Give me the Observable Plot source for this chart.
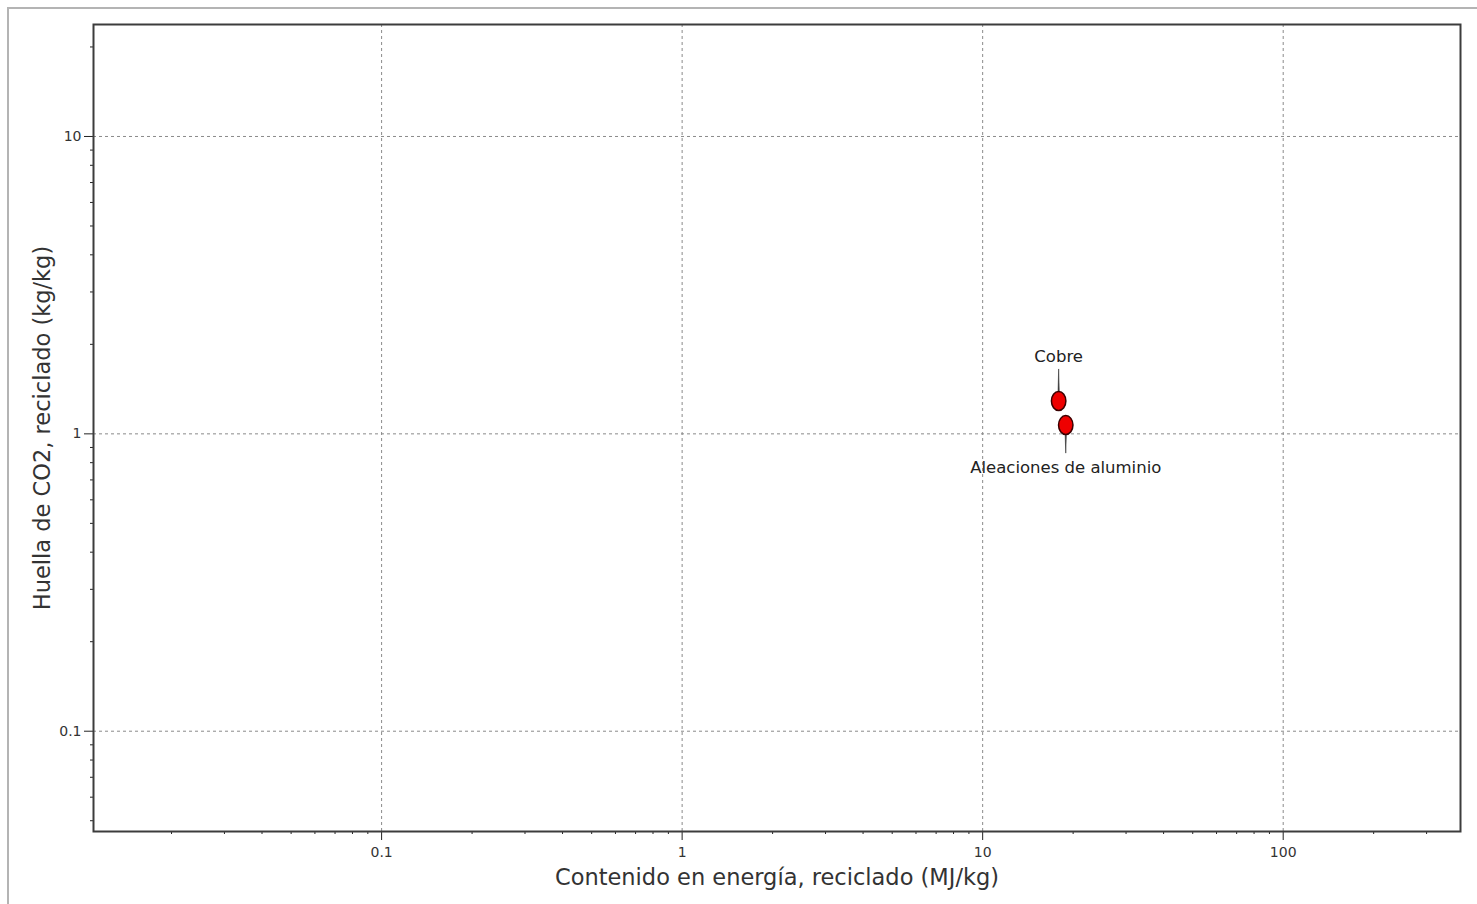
<!DOCTYPE html>
<html>
<head>
<meta charset="utf-8">
<script src="https://cdn.jsdelivr.net/npm/d3@7"></script>
<script src="https://cdn.jsdelivr.net/npm/@observablehq/plot@0.6"></script>
<style>
  html, body { margin: 0; padding: 0; background: #fff; overflow: hidden; }
  #wrap { position: relative; width: 1477px; height: 904px; }
  #border { position: absolute; left: 7px; top: 7px; width: 1475px; height: 910px;
            border-top: 2px solid #b4b4b4; border-left: 2px solid #b4b4b4; pointer-events: none; }
  svg g[aria-label$="tick label"] { font-size: 14px; }
</style>
</head>
<body>
<div id="wrap"><div id="border"></div></div>
<script>
// ---- data ----
const materials = ["Cobre", "Aleaciones de aluminio"];
const energy = [17.9, 18.9];      // MJ/kg, reciclado
const co2 = [1.29, 1.07];         // kg/kg, reciclado
const xTicks = [0.1, 1, 10, 100];
const yTicks = [0.1, 1, 10];
const xDomain = [0.011, 389];
const yDomain = [0.046, 23.8];
const xTitle = "Contenido en energía, reciclado (MJ/kg)";
const yTitle = "Huella de CO2, reciclado (kg/kg)";

const data = materials.map((m, i) => ({name: m, x: energy[i], y: co2[i]}));

function minorTicks(domain) {
  const out = [];
  for (let e = -3; e <= 3; e++) {
    for (let k = 2; k <= 9; k++) {
      const v = k * Math.pow(10, e);
      if (v >= domain[0] && v <= domain[1]) out.push(v);
    }
  }
  return out;
}

const ellipse = {
  draw(ctx, size) {
    const r = Math.sqrt(size / Math.PI);
    const rx = r * 0.76, ry = r, k = 0.5523;
    ctx.moveTo(rx, 0);
    ctx.bezierCurveTo(rx, ry * k, rx * k, ry, 0, ry);
    ctx.bezierCurveTo(-rx * k, ry, -rx, ry * k, -rx, 0);
    ctx.bezierCurveTo(-rx, -ry * k, -rx * k, -ry, 0, -ry);
    ctx.bezierCurveTo(rx * k, -ry, rx, -ry * k, rx, 0);
    ctx.closePath();
  }
};

const font = "DejaVu Sans";
const top_ = data.filter(d => d.name === materials[0]);
const bottom_ = data.filter(d => d.name === materials[1]);
const noLabel = () => "";

const chart = Plot.plot({
  width: 1477,
  height: 904,
  marginLeft: 93,
  marginRight: 17,
  marginTop: 24,
  marginBottom: 73,
  style: {fontFamily: font, fontSize: "14px", color: "#333", background: "transparent"},
  x: {type: "log", domain: xDomain},
  y: {type: "log", domain: yDomain},
  marks: [
    Plot.gridX(xTicks, {stroke: "#8a8a8a", strokeOpacity: 1, strokeDasharray: "3,3"}),
    Plot.gridY(yTicks, {stroke: "#8a8a8a", strokeOpacity: 1, strokeDasharray: "3,3"}),
    Plot.axisX(minorTicks(xDomain), {tickSize: 3, tickFormat: noLabel, stroke: "#222", label: null}),
    Plot.axisY(minorTicks(yDomain), {tickSize: 3, tickFormat: noLabel, stroke: "#222", label: null}),
    Plot.axisX(xTicks, {tickSize: 9, tickPadding: 7, tickFormat: d => String(d), stroke: "#222", fill: "#333", fontSize: 14, label: null}),
    Plot.axisY(yTicks, {tickSize: 9, tickPadding: 3, tickFormat: d => String(d), stroke: "#222", fill: "#333", fontSize: 14, label: null}),
    Plot.frame({stroke: "#3c3c3c", strokeWidth: 2}),
    Plot.text([xTitle], {frameAnchor: "bottom", text: d => d, textAnchor: "middle", dy: 53, fontSize: 22.5, fill: "#333"}),
    Plot.text([yTitle], {frameAnchor: "left", text: d => d, textAnchor: "middle", rotate: -90, dx: -51, fontSize: 22.5, fill: "#333"}),
    Plot.vector(top_, {x: "x", y: "y", anchor: "start", length: 23, rotate: 0, shape: "spike", r: 0.6, fill: "#333", stroke: "#333", strokeWidth: 0.6, dy: -9}),
    Plot.vector(bottom_, {x: "x", y: "y", anchor: "start", length: 19, rotate: 180, shape: "spike", r: 0.6, fill: "#333", stroke: "#333", strokeWidth: 0.6, dy: 9}),
    Plot.dot(data, {x: "x", y: "y", r: 9.5, symbol: ellipse, fill: "#ee0000", stroke: "#3a0000", strokeWidth: 1.5}),
    Plot.text(top_, {x: "x", y: "y", text: "name", dy: -44, fontSize: 16.5, fill: "#222"}),
    Plot.text(bottom_, {x: "x", y: "y", text: "name", dy: 43, fontSize: 16.5, fill: "#222"})
  ]
});
chart.style.position = "absolute";
chart.style.left = "0";
chart.style.top = "0";
document.getElementById("wrap").appendChild(chart);
</script>
</body>
</html>
